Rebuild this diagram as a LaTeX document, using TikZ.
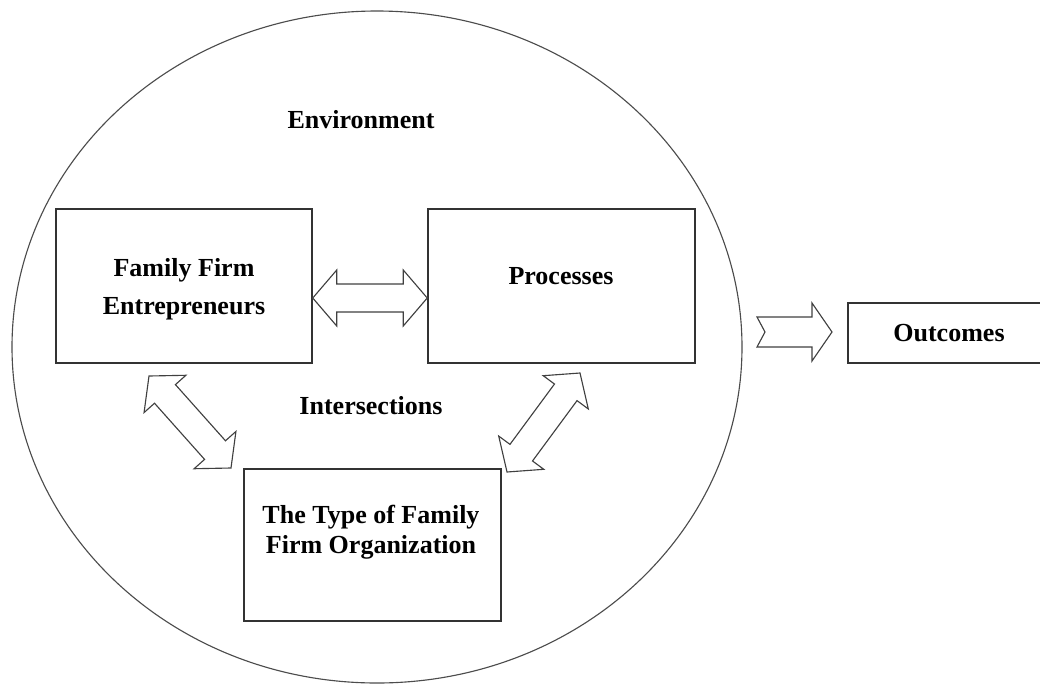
\documentclass[tikz,border=0pt]{standalone}
\usepackage{fontspec}
\setmainfont{Liberation Serif}
\usetikzlibrary{calc,positioning}
\tikzset{font=\bfseries\fontsize{18.5}{21.3}\selectfont}
\tikzset{box/.style={draw=black!80, line width=1pt, inner sep=0pt}}
\tikzset{hollow/.style={draw=black!75, line width=.8pt, line join=miter, fill=white}}
\tikzset{envline/.style={draw=black!70, line width=.8pt}}
\newcommand{\arrhead}{.6cm}
\newcommand{\arrwide}{.7cm}
\newcommand{\arrshaft}{.35cm}
\newcommand{\twoway}[2]{%
  \draw[hollow] (#1)
  -- ($(#1)!\arrhead!(#2)!\arrwide!90:(#2)$)
  -- ($(#1)!\arrhead!(#2)!\arrshaft!90:(#2)$)
  -- ($(#2)!\arrhead!(#1)!\arrshaft!-90:(#1)$)
  -- ($(#2)!\arrhead!(#1)!\arrwide!-90:(#1)$)
  -- (#2)
  -- ($(#2)!\arrhead!(#1)!\arrwide!90:(#1)$)
  -- ($(#2)!\arrhead!(#1)!\arrshaft!90:(#1)$)
  -- ($(#1)!\arrhead!(#2)!\arrshaft!-90:(#2)$)
  -- ($(#1)!\arrhead!(#2)!\arrwide!-90:(#2)$)
  -- cycle;}

\begin{document}
\begin{tikzpicture}[x=.025cm, y=-.025cm]
  \useasboundingbox (0,0) rectangle (1040,686);

  \draw[envline] (377,347) ellipse [x radius=365, y radius=336];
  \node (env) at (361,120) {Environment};

  \node[box, minimum width=6.4cm, minimum height=3.85cm] (ffe) at (184,286) {};
  \node[box, minimum width=6.675cm, minimum height=3.85cm] (proc) at (561.5,286) {};
  \node[box, minimum width=6.425cm, minimum height=3.8cm] (type) at (372.5,545) {};
  \node[box, minimum width=5.05cm, minimum height=1.5cm] (outc) at (949,333) {Outcomes};

  \node[align=center] (ffetxt) at (184,289) {Family Firm\\[6pt]Entrepreneurs};
  \node (proctxt) at (561,276) {Processes};
  \node[align=center] (typetxt) at (371,532) {The Type of Family\\Firm Organization};
  \node (inter) at (371,406) {Intersections};

  \coordinate (ha) at ([yshift=-.3cm]ffe.east);
  \coordinate (hb) at ([yshift=-.3cm]proc.west);
  \coordinate (la) at (149,376);
  \coordinate (lb) at (231,468);
  \coordinate (ra) at (580,373);
  \coordinate (rb) at (507,472);

  \twoway{ha}{hb}
  \twoway{la}{lb}
  \twoway{ra}{rb}

  % arrow out of the circle
  \coordinate (ot) at (757,332);
  \draw[hollow, shift={(ot)}] (0,-15) -- (55,-15) -- (55,-29) -- (75,0)
    -- (55,29) -- (55,15) -- (0,15) -- (8,0) -- cycle;

\end{tikzpicture}
\end{document}
